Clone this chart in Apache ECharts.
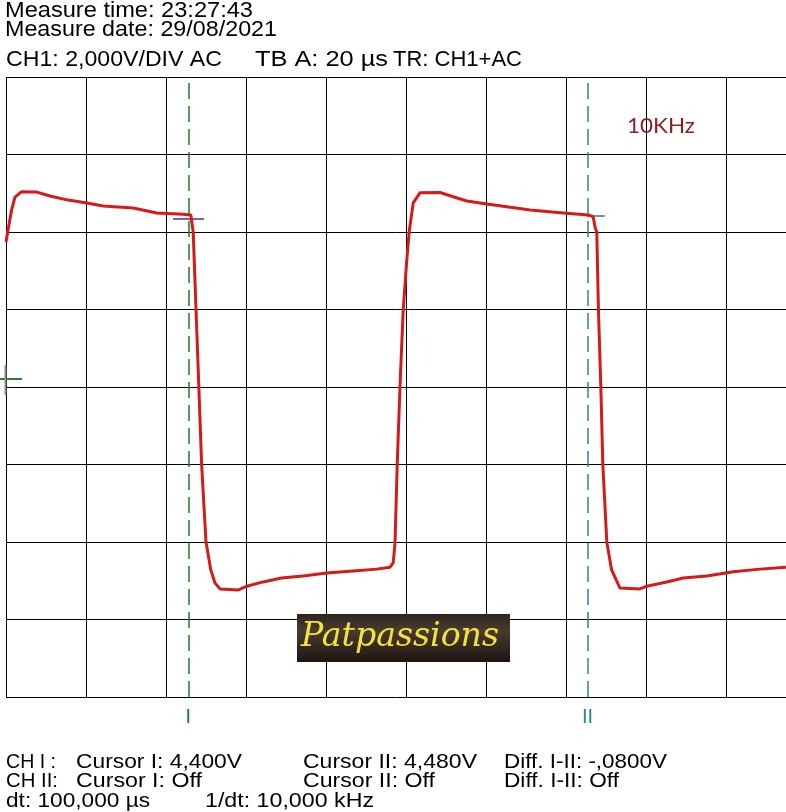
<!DOCTYPE html>
<html>
<head>
<meta charset="utf-8">
<script src="https://cdn.jsdelivr.net/npm/echarts@6/dist/echarts.min.js"></script>
<style>
html,body{margin:0;padding:0;background:#fff;}
#chart{width:786px;height:812px;}
</style>
</head>
<body>
<div id="chart"></div>
<script>
// ---- data (time in µs, voltage in V) ----
const times = [0,0.5,1.4,2.25,3.9,7.7,11,15.2,20.2,24.3,31.8,37.7,44.3,46.2,46.8,47.5,48.2,48.9,50,51.2,52.25,53.5,58,60.2,64.25,68.9,74.25,80.2,86.75,92.7,96,96.8,97.25,97.8,98.5,99.3,100.2,100.8,101.8,103.5,108.5,111.8,115.2,120.2,125.2,131,139.3,145.6,146.8,147.25,147.7,148.1,148.7,149.2,150.2,151.4,153.5,158.5,160.2,165.2,169.3,175.2,181.8,188.5,195];
const volts = [3.74,4.05,4.57,4.90,5.04,5.03,4.93,4.83,4.75,4.67,4.62,4.49,4.46,4.44,4.0,2.01,0.03,-1.99,-4.0,-4.72,-5.06,-5.21,-5.24,-5.14,-5.03,-4.93,-4.88,-4.80,-4.75,-4.70,-4.65,-4.54,-4.03,-2.01,0.01,1.99,3.28,4.01,4.75,5.01,5.02,4.91,4.80,4.72,4.65,4.57,4.49,4.44,4.39,4.13,4.0,2.01,0.03,-1.99,-4.0,-4.72,-5.19,-5.21,-5.14,-5.03,-4.93,-4.88,-4.77,-4.70,-4.65];
const cursorTimes = [45.6, 145.4];          // cursor I, cursor II (µs)
const cursorLabels = ['I', 'II'];
const cursorLevels = [4.35, 4.42];         // crosshair levels (V)
const cursorHalfSpan = [[3.85, 3.9], [0.2, 4.3]];
const headerLines = ['Measure time: 23:27:43', 'Measure date: 29/08/2021'];
const headerRow3 = ['CH1: 2,000V/DIV AC', 'TB A: 20 µs', 'TR: CH1+AC'];
const footerRow1 = ['CH I :', 'Cursor I: 4,400V', 'Cursor II: 4,480V', 'Diff. I-II: -,0800V'];
const footerRow2 = ['CH II:', 'Cursor I: Off', 'Cursor II: Off', 'Diff. I-II: Off'];
const footerRow3 = ['dt: 100,000 µs', '1/dt: 10,000 kHz'];
const freqNote = '10KHz';
const logoText = 'Patpassions';

const chart = echarts.init(document.getElementById('chart'), null, {renderer: 'canvas'});
const mctx = document.createElement('canvas').getContext('2d');

function fitText(str, left, cy, targetW, font, color, extra) {
  mctx.font = font;
  const w = mctx.measureText(str).width || 1;
  return Object.assign({
    type: 'text', x: left, y: cy, scaleX: targetW / w, originX: 0, originY: 0,
    silent: true, z: 100,
    style: {text: str, font: font, fill: color, verticalAlign: 'middle', align: 'left'}
  }, extra || {});
}

const HF = '22px "Liberation Sans", Arial, sans-serif';
const FF = '21px "Liberation Sans Narrow", "Liberation Sans", Arial, sans-serif';

const graphics = [
  fitText(headerLines[0], 5, 11, 248, HF, '#000'),
  fitText(headerLines[1], 5, 29.5, 272, HF, '#000'),
  fitText(headerRow3[0], 6, 59.5, 216, HF, '#000'),
  fitText(headerRow3[1], 255, 59.5, 133, HF, '#000'),
  fitText(headerRow3[2], 393, 59.5, 129, HF, '#000'),

  fitText(footerRow1[0], 6, 762.5, 50, FF, '#000'),
  fitText(footerRow1[1], 76, 762.5, 166, FF, '#000'),
  fitText(footerRow1[2], 303, 762.5, 174, FF, '#000'),
  fitText(footerRow1[3], 504, 762.5, 163, FF, '#000'),
  fitText(footerRow2[0], 6, 781.5, 52, FF, '#000'),
  fitText(footerRow2[1], 76, 781.5, 126, FF, '#000'),
  fitText(footerRow2[2], 303, 781.5, 132, FF, '#000'),
  fitText(footerRow2[3], 504, 781.5, 115, FF, '#000'),
  fitText(footerRow3[0], 6, 801.5, 144, FF, '#000'),
  fitText(footerRow3[1], 205, 801.5, 169, FF, '#000'),

  fitText(freqNote, 627, 126, 68, '22px Lato, "Open Sans", sans-serif', '#8b1f1f'),

  {type: 'rect', silent: true, z: 90,
   shape: {x: 297, y: 614, width: 213, height: 48},
   style: {fill: new echarts.graphic.LinearGradient(0, 0, 0, 1, [
     {offset: 0, color: '#2c2420'}, {offset: 0.35, color: '#4a3b30'},
     {offset: 0.6, color: '#3a2c24'}, {offset: 1, color: '#1d1512'}])}},
  fitText(logoText, 301, 637, 198, 'italic 34px "DejaVu Serif", serif', '#f2e33c', {z: 95}),

  {type: 'line', silent: true, z: 80, shape: {x1: 0, y1: 379, x2: 22, y2: 379}, style: {stroke: '#2e7d32', lineWidth: 2}},
  {type: 'line', silent: true, z: 80, shape: {x1: 5.5, y1: 365, x2: 5.5, y2: 395}, style: {stroke: '#8a8a8a', lineWidth: 2}}
];

const cursorColors = ['#1f7a2a', '#2b8595'];
const crossColors = ['#5b2d86', '#2f8f3a'];

const markData = [];
cursorTimes.forEach((t, i) => {
  markData.push({
    xAxis: t,
    lineStyle: {color: cursorColors[i], type: [16, 7], width: 1.5},
    label: {show: true, position: 'start', formatter: cursorLabels[i], color: cursorColors[i],
            fontSize: 20, fontFamily: '"Liberation Sans", Arial', distance: 10}
  });
  markData.push([
    {coord: [t - cursorHalfSpan[i][0], cursorLevels[i]], lineStyle: {color: crossColors[i], type: 'solid', width: 1.5}, label: {show: false}},
    {coord: [t + cursorHalfSpan[i][1], cursorLevels[i]]}
  ]);
});

const option = {
  animation: false,
  backgroundColor: '#fff',
  grid: {left: 6, top: 77, width: 800, height: 620, containLabel: false, outerBoundsMode: 'none'},
  xAxis: {
    type: 'value', min: 0, max: 200, interval: 20,
    axisLine: {show: false}, axisTick: {show: false}, axisLabel: {show: false},
    splitLine: {show: true, lineStyle: {color: '#000', width: 1}}
  },
  yAxis: {
    type: 'value', min: -8, max: 8, interval: 2,
    axisLine: {show: false}, axisTick: {show: false}, axisLabel: {show: false},
    splitLine: {show: true, lineStyle: {color: '#000', width: 1}}
  },
  series: [{
    type: 'line',
    data: times.map((t, i) => [t, volts[i]]),
    showSymbol: false,
    symbol: 'none',
    lineStyle: {color: '#d41a1a', width: 3, join: 'round'},
    z: 10,
    markLine: {
      silent: true, symbol: ['none', 'none'], animation: false,
      data: markData
    }
  }],
  graphic: graphics
};
chart.setOption(option);
</script>
</body>
</html>
